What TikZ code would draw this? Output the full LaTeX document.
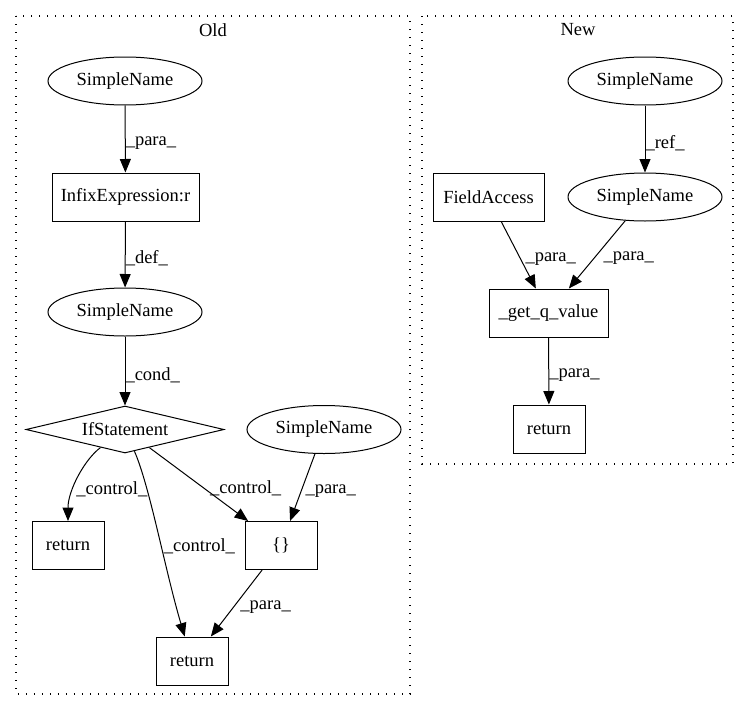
\documentclass[tikz,border=0pt]{standalone}
\usepackage{fontspec}
\setmainfont{Liberation Serif}
\usetikzlibrary{shapes.geometric,arrows.meta}

\tikzset{
  box/.style={draw, rectangle, minimum height=48pt, inner sep=0pt},
  oval/.style={draw, ellipse, minimum width=154pt, minimum height=48pt, inner sep=0pt},
  cond/.style={draw, diamond, aspect=4.2, minimum width=198pt, minimum height=47pt, inner sep=0pt},
  cluster/.style={draw, line width=1.2pt, dash pattern=on 1.4pt off 6.6pt},
  link/.style={-{Triangle[length=13.5pt,width=11pt]}, line width=1pt},
  lbl/.style={anchor=west, inner sep=0pt, yshift=-4pt},
}

\begin{document}
\begin{tikzpicture}[x=1pt, y=-1pt, font=\fontsize{18.5}{22}\selectfont, line width=1pt]
      \useasboundingbox (0,0) rectangle (749,712);
      % the two clusters
      \draw[cluster] (16,16) rectangle (410,694);
      \draw[cluster] (422,16) rectangle (733,464);
      \node (oldtitle) at (213,30) {Old};
      \node (newtitle) at (578,30) {New};

      % Old
      \node[oval] (sn1) at (125,81) {SimpleName};
      \node[box, minimum width=147pt] (infix) at (125.5,197) {InfixExpression:r};
      \node[oval] (sn2) at (125,312) {SimpleName};
      \node[cond] (ifst) at (125,429.5) {IfStatement};
      \node[oval] (sn3) at (324,429.5) {SimpleName};
      \node[box, minimum width=72pt] (ret1) at (68,545.5) {return};
      \node[box, minimum width=72pt] (braces) at (281,545.5) {\{\}};
      \node[box, minimum width=72pt] (ret2) at (192,661) {return};

      \draw[link] (sn1) -- node[lbl] {\_para\_} (infix);
      \draw[link] (infix) -- node[lbl] {\_def\_} (sn2);
      \draw[link] (sn2) -- node[lbl] {\_cond\_} (ifst);
      \draw[link] (ifst) .. controls (85,459) and (68,490) .. node[lbl, pos=.6, xshift=1pt] {\_control\_} (ret1);
      \draw[link] (ifst) .. controls (150,487) and (165,570) .. node[lbl, pos=.55, xshift=3pt] {\_control\_} (ret2);
      \draw[link] (ifst) -- node[lbl, xshift=11pt] {\_control\_} (braces);
      \draw[link] (sn3) -- node[lbl, xshift=2.5pt] {\_para\_} (braces);
      \draw[link] (braces) -- node[lbl, xshift=3.5pt] {\_para\_} (ret2);

      % New
      \node[oval] (sn4) at (645,81) {SimpleName};
      \node[oval] (sn5) at (645,197) {SimpleName};
      \node[box, minimum width=111pt] (field) at (488.5,197) {FieldAccess};
      \node[box, minimum width=119pt] (getq) at (548.5,313) {\_get\_q\_value};
      \node[box, minimum width=72pt] (ret3) at (549,429) {return};

      \draw[link] (sn4) -- node[lbl] {\_ref\_} (sn5);
      \draw[link] (field) -- node[lbl, xshift=6.5pt] {\_para\_} (getq);
      \draw[link] (sn5) -- node[lbl, xshift=6pt] {\_para\_} (getq);
      \draw[link] (getq) -- node[lbl] {\_para\_} (ret3);
\end{tikzpicture}
\end{document}
